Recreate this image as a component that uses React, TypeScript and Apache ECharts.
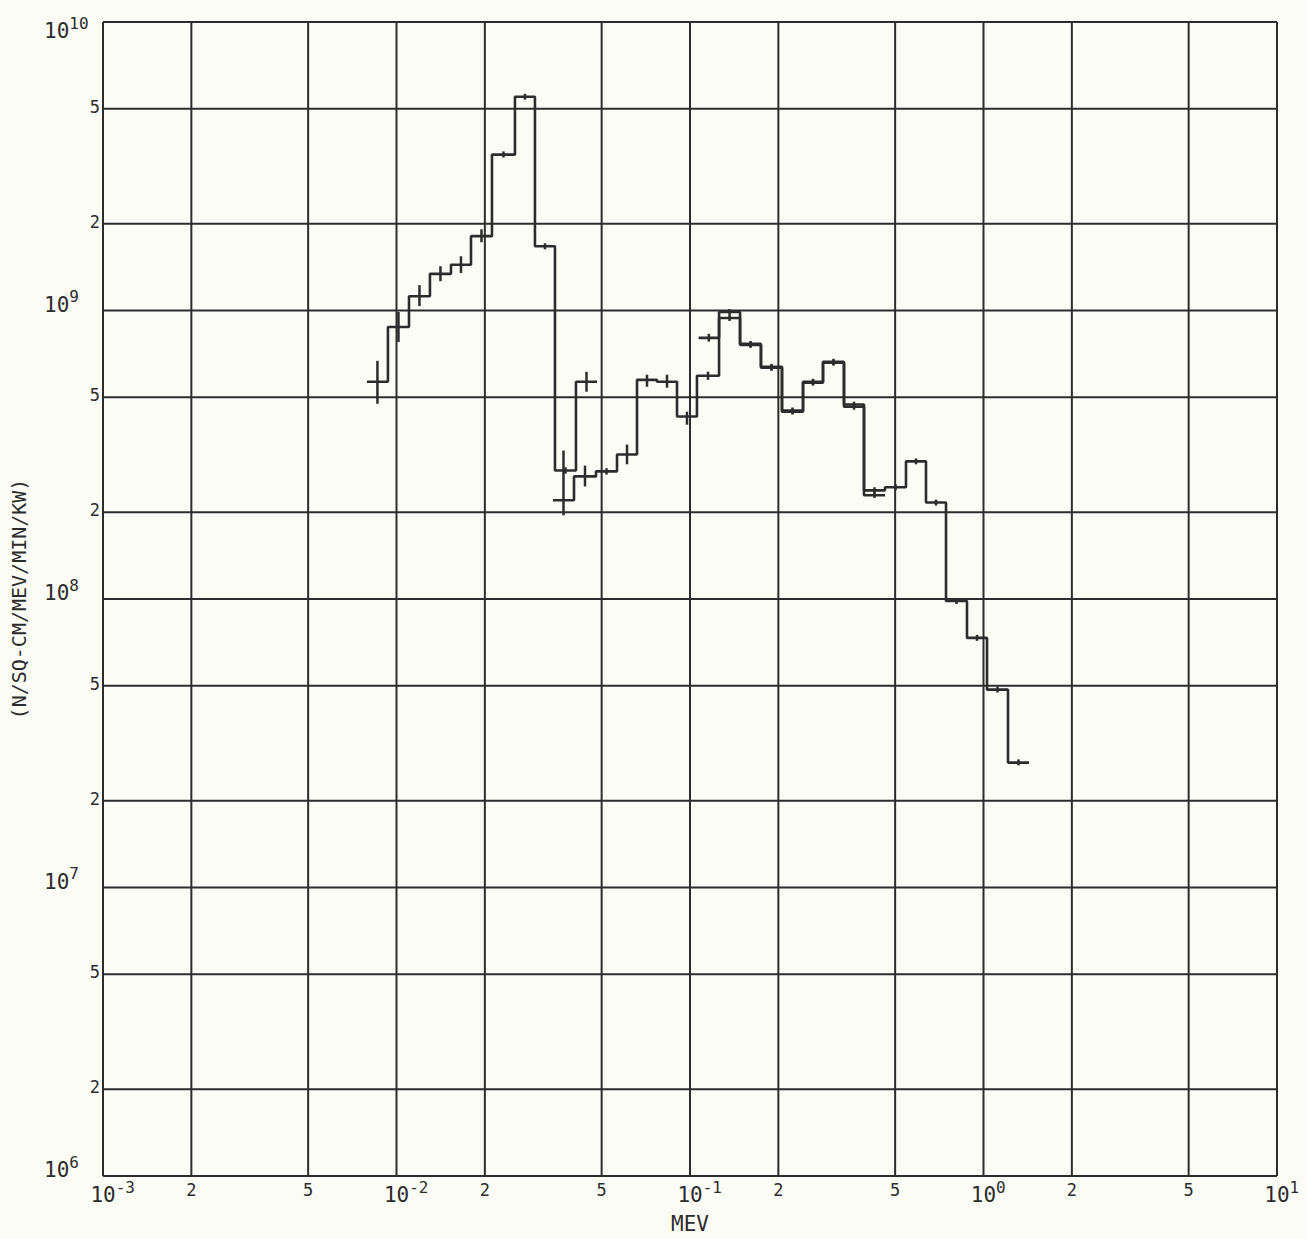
import React, { useEffect, useRef } from "react";
import * as echarts from "echarts";

// ---- Data ----
// Dataset A: low-energy histogram (bin edges in MeV, values in N/SQ-CM/MEV/MIN/KW)
const EDGES_A = [0.00793, 0.00935, 0.01103, 0.013, 0.01533, 0.01794, 0.02115, 0.02533, 0.02963, 0.03467, 0.04088, 0.04821];
const VALUES_A = [5.66e8, 8.77e8, 1.12e9, 1.34e9, 1.44e9, 1.81e9, 3.47e9, 5.51e9, 1.67e9, 2.79e8, 5.66e8];
const ERR_LO_A = [4.75e8, 7.78e8, 1.036e9, 1.264e9, 1.348e9, 1.724e9, 3.39e9, 5.38e9, 1.63e9, 2.72e8, 5.23e8];
const ERR_HI_A = [6.69e8, 9.88e8, 1.224e9, 1.424e9, 1.542e9, 1.912e9, 3.56e9, 5.64e9, 1.71e9, 2.86e8, 6.13e8];

// Dataset B: mid-energy histogram
const EDGES_B = [0.03413, 0.04025, 0.04783, 0.0564, 0.06598, 0.07718, 0.09031, 0.1056, 0.1256, 0.1481, 0.1745, 0.2058, 0.2427, 0.2839, 0.3347, 0.3916, 0.4617];
const VALUES_B = [2.2e8, 2.66e8, 2.77e8, 3.17e8, 5.75e8, 5.66e8, 4.29e8, 5.94e8, 9.42e8, 7.6e8, 6.33e8, 4.46e8, 5.62e8, 6.59e8, 4.72e8, 2.29e8];
const ERR_LO_B = [1.95e8, 2.455e8, 2.7e8, 2.93e8, 5.44e8, 5.4e8, 4.02e8, 5.75e8, 9.2e8, 7.42e8, 6.18e8, 4.36e8, 5.49e8, 6.44e8, 4.61e8, 2.24e8];
const ERR_HI_B = [3.27e8, 2.9e8, 2.84e8, 3.43e8, 5.99e8, 5.99e8, 4.46e8, 6.14e8, 9.65e8, 7.78e8, 6.48e8, 4.57e8, 5.75e8, 6.75e8, 4.83e8, 2.34e8];

// Dataset C: high-energy histogram
const EDGES_C = [0.107, 0.1256, 0.1481, 0.1745, 0.2058, 0.2427, 0.2839, 0.3347, 0.3916, 0.4617, 0.5444, 0.6369, 0.7452, 0.8786, 1.028, 1.212, 1.429];
const VALUES_C = [8.04e8, 9.88e8, 7.66e8, 6.38e8, 4.5e8, 5.66e8, 6.64e8, 4.64e8, 2.38e8, 2.44e8, 3.0e8, 2.16e8, 9.84e7, 7.33e7, 4.85e7, 2.71e7];
const ERR_LO_C = [7.8e8, 9.65e8, 7.48e8, 6.23e8, 4.39e8, 5.53e8, 6.48e8, 4.53e8, 2.32e8, 2.38e8, 2.93e8, 2.11e8, 9.61e7, 7.16e7, 4.74e7, 2.65e7];
const ERR_HI_C = [8.3e8, 1.012e9, 7.84e8, 6.53e8, 4.61e8, 5.8e8, 6.8e8, 4.75e8, 2.44e8, 2.5e8, 3.07e8, 2.21e8, 1.008e8, 7.51e7, 4.97e7, 2.78e7];

// Axis ranges and grid / tick values
const X_MIN = 0.001;
const X_MAX = 10;
const Y_MIN = 1e6;
const Y_MAX = 1e10;
const X_DECADES = [0.001, 0.01, 0.1, 1, 10];
const Y_DECADES = [1e6, 1e7, 1e8, 1e9, 1e10];
const X_MINOR = [0.002, 0.005, 0.02, 0.05, 0.2, 0.5, 2, 5];
const X_MINOR_LABELS = ["2", "5", "2", "5", "2", "5", "2", "5"];
const Y_MINOR = [2e6, 5e6, 2e7, 5e7, 2e8, 5e8, 2e9, 5e9];
const Y_MINOR_LABELS = ["2", "5", "2", "5", "2", "5", "2", "5"];

const X_NAME = "MEV";
const Y_NAME = "(N/SQ-CM/MEV/MIN/KW)";

const INK = "#2c2c2c";
const FONT = "DejaVu Sans Mono";

function stepData(edges: number[], values: number[]) {
  const pts: number[][] = [];
  values.forEach((v, i) => {
    pts.push([edges[i], v]);
    pts.push([edges[i + 1], v]);
  });
  return pts;
}

function errData(edges: number[], lo: number[], hi: number[]) {
  return lo.map((l, i) => [Math.sqrt(edges[i] * edges[i + 1]), l, hi[i]]);
}

type GridItem = { v: number; dir: "x" | "y"; label: string };

export default function App() {
  const ref = useRef<HTMLDivElement>(null);

  useEffect(() => {
    if (!ref.current) return;
    const chart = echarts.init(ref.current, undefined, { renderer: "svg" });

    const gridItems: GridItem[] = [
      ...X_DECADES.map((v) => ({ v, dir: "x" as const, label: "" })),
      ...X_MINOR.map((v, i) => ({ v, dir: "x" as const, label: X_MINOR_LABELS[i] })),
      ...Y_DECADES.map((v) => ({ v, dir: "y" as const, label: "" })),
      ...Y_MINOR.map((v, i) => ({ v, dir: "y" as const, label: Y_MINOR_LABELS[i] })),
    ];

    const renderGrid = (params: any, api: any) => {
      const g = gridItems[params.dataIndex];
      const children: any[] = [];
      if (g.dir === "x") {
        const p1 = api.coord([g.v, Y_MIN]);
        const p2 = api.coord([g.v, Y_MAX]);
        children.push({
          type: "line",
          shape: { x1: p1[0], y1: p1[1], x2: p2[0], y2: p2[1] },
          style: { stroke: INK, lineWidth: 2 },
        });
        if (g.label) {
          children.push({
            type: "text",
            style: {
              text: g.label,
              x: p1[0],
              y: p1[1] + 5,
              align: "center",
              verticalAlign: "top",
              fontFamily: FONT,
              fontSize: 17,
              fill: INK,
            },
          });
        }
      } else {
        const p1 = api.coord([X_MIN, g.v]);
        const p2 = api.coord([X_MAX, g.v]);
        children.push({
          type: "line",
          shape: { x1: p1[0], y1: p1[1], x2: p2[0], y2: p2[1] },
          style: { stroke: INK, lineWidth: 2 },
        });
        if (g.label) {
          children.push({
            type: "text",
            style: {
              text: g.label,
              x: p1[0] - 3,
              y: p1[1] - 2,
              align: "right",
              verticalAlign: "middle",
              fontFamily: FONT,
              fontSize: 17,
              fill: INK,
            },
          });
        }
      }
      return { type: "group", children };
    };

    const renderErr = (params: any, api: any) => {
      const x = api.value(0);
      const p1 = api.coord([x, api.value(1)]);
      const p2 = api.coord([x, api.value(2)]);
      return {
        type: "line",
        shape: { x1: p1[0], y1: p1[1], x2: p2[0], y2: p2[1] },
        style: { stroke: INK, lineWidth: 2.5 },
      };
    };

    const histStyle = { color: INK, width: 2.6 };

    const supRich = {
      b: { fontFamily: FONT, fontSize: 21, color: INK },
      s: { fontFamily: FONT, fontSize: 16, color: INK, padding: [0, 0, 16, 0] },
      bT: { fontFamily: FONT, fontSize: 21, color: INK, padding: [30, 0, 0, 0] },
      sT: { fontFamily: FONT, fontSize: 16, color: INK, padding: [30, 0, 16, 0] },
      sp1: { width: 9.6 },
      sp2: { width: 19.3 },
    };

    chart.setOption({
      animation: false,
      backgroundColor: "#fcfcf7",
      grid: { left: 103, top: 22, width: 1174, height: 1158, containLabel: false },
      xAxis: {
        type: "log",
        logBase: 10,
        min: X_MIN,
        max: X_MAX,
        name: X_NAME,
        nameLocation: "middle",
        nameGap: 37,
        nameTextStyle: { fontFamily: FONT, fontSize: 21, color: INK, verticalAlign: "top" },
        axisLine: { show: false },
        axisTick: { show: false },
        splitLine: { show: false },
        minorTick: { show: false },
        axisLabel: {
          margin: 3,
          showMinLabel: true,
          showMaxLabel: true,
          formatter: (v: number) => {
            const e = String(Math.round(Math.log10(v)));
            return `{sp${e.length}|}{b|10}{s|${e}}`;
          },
          rich: supRich,
        },
      },
      yAxis: {
        type: "log",
        logBase: 10,
        min: Y_MIN,
        max: Y_MAX,
        name: Y_NAME,
        nameLocation: "middle",
        nameGap: 74,
        nameTextStyle: { fontFamily: FONT, fontSize: 20, color: INK },
        axisLine: { show: false },
        axisTick: { show: false },
        splitLine: { show: false },
        minorTick: { show: false },
        axisLabel: {
          margin: 59,
          align: "left",
          padding: [0, 0, 12, 0],
          showMinLabel: true,
          showMaxLabel: true,
          formatter: (v: number) => {
            const e = Math.round(Math.log10(v));
            if (e === 10) return `{bT|10}{sT|${e}}`;
            return `{b|10}{s|${e}}`;
          },
          rich: supRich,
        },
      },
      series: [
        {
          type: "custom",
          data: gridItems.map((g) => (g.dir === "x" ? [g.v, Y_MIN] : [X_MIN, g.v])),
          encode: { x: 0, y: 1 },
          renderItem: renderGrid,
          silent: true,
          clip: false,
          z: 1,
        },
        {
          type: "line",
          data: stepData(EDGES_A, VALUES_A),
          showSymbol: false,
          lineStyle: histStyle,
          z: 3,
        },
        {
          type: "line",
          data: stepData(EDGES_B, VALUES_B),
          showSymbol: false,
          lineStyle: histStyle,
          z: 3,
        },
        {
          type: "line",
          data: stepData(EDGES_C, VALUES_C),
          showSymbol: false,
          lineStyle: histStyle,
          z: 3,
        },
        {
          type: "custom",
          data: [
            ...errData(EDGES_A, ERR_LO_A, ERR_HI_A),
            ...errData(EDGES_B, ERR_LO_B, ERR_HI_B),
            ...errData(EDGES_C, ERR_LO_C, ERR_HI_C),
          ],
          encode: { x: 0, y: [1, 2] },
          renderItem: renderErr,
          z: 4,
        },
      ],
    });

    return () => chart.dispose();
  }, []);

  return (
    <div
      ref={ref}
      style={{ position: "absolute", left: 0, top: 0, width: 1307, height: 1239 }}
    />
  );
}
